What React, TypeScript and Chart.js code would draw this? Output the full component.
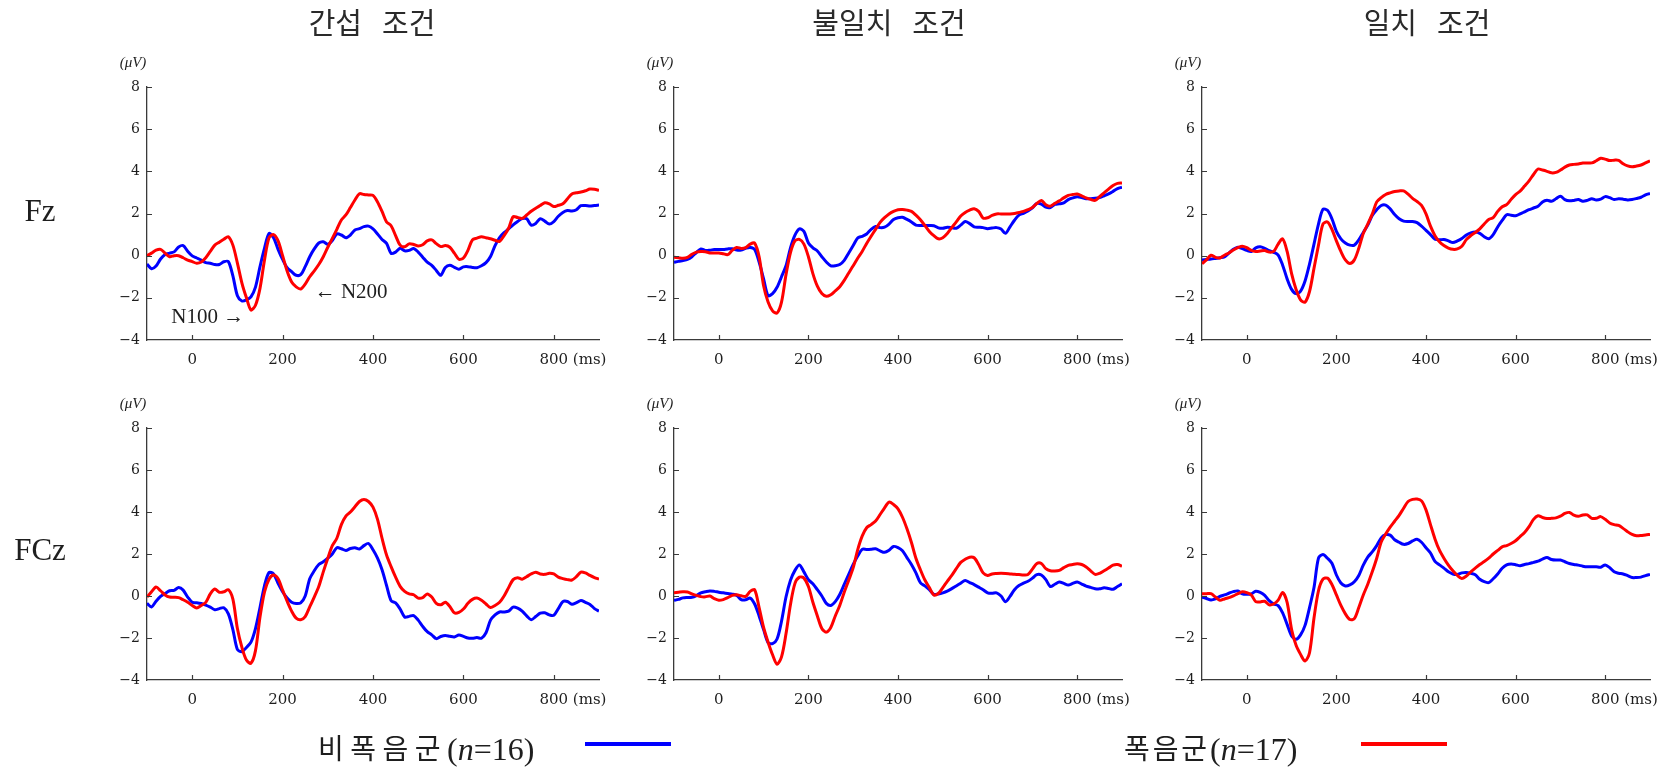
import React, { useEffect, useRef } from "react";
import { Chart, registerables } from "chart.js";

Chart.register(...registerables);

// ---------------- data ----------------
const TIMES = [
  -100, -90, -80, -70, -60, -50, -40, -30, -20, -10,
  0, 10, 20, 30, 40, 50, 60, 70, 80, 90,
  100, 110, 120, 130, 140, 150, 160, 170, 180, 190,
  200, 210, 220, 230, 240, 250, 260, 270, 280, 290,
  300, 310, 320, 330, 340, 350, 360, 370, 380, 390,
  400, 410, 420, 430, 440, 450, 460, 470, 480, 490,
  500, 510, 520, 530, 540, 550, 560, 570, 580, 590,
  600, 610, 620, 630, 640, 650, 660, 670, 680, 690,
  700, 710, 720, 730, 740, 750, 760, 770, 780, 790,
  800, 810, 820, 830, 840, 850, 860, 870, 880, 890,
  900,
];

const X_TICKS = [0, 200, 400, 600, 800];
const Y_TICKS = [8, 6, 4, 2, 0, -2, -4];
const X_MIN = -100;
const X_MAX = 900;
const Y_MIN = -4;
const Y_MAX = 8;
const X_UNIT = "(ms)";
const Y_UNIT = "(μV)";

const COL_TITLES = ["간섭 조건", "불일치 조건", "일치 조건"];
const ROW_LABELS = ["Fz", "FCz"];
const GROUP_NAMES = ["비폭음군", "폭음군"];
const GROUP_N = [16, 17];

// Fz, 간섭 조건
const fzInterfBlue = [
  -0.40, -0.62, -0.49, -0.16, 0.05, 0.12, 0.18, 0.41, 0.48, 0.21,
  -0.01, -0.11, -0.21, -0.33, -0.36, -0.42, -0.42, -0.29, -0.28, -0.96,
  -1.9, -2.15, -2.1, -1.95, -1.49, -0.52, 0.36, 1.05, 0.85, 0.3,
  -0.18, -0.57, -0.76, -0.93, -0.9, -0.52, -0.05, 0.32, 0.6, 0.66,
  0.54, 0.72, 1.03, 0.98, 0.85, 0.98, 1.22, 1.28, 1.38, 1.4,
  1.27, 1.03, 0.77, 0.58, 0.11, 0.17, 0.35, 0.23, 0.25, 0.34,
  0.17, -0.07, -0.31, -0.46, -0.7, -0.93, -0.56, -0.46, -0.55, -0.64,
  -0.53, -0.52, -0.56, -0.57, -0.48, -0.33, -0.04, 0.48, 0.86, 1.09,
  1.27, 1.46, 1.62, 1.76, 1.75, 1.45, 1.53, 1.75, 1.64, 1.5,
  1.62, 1.87, 2.05, 2.14, 2.12, 2.18, 2.37, 2.38, 2.35, 2.38,
  2.4,
];
const fzInterfRed = [
  0.0, 0.12, 0.26, 0.3, 0.12, -0.05, 0.0, 0.0, -0.1, -0.21,
  -0.28, -0.36, -0.3, -0.1, 0.2, 0.5, 0.64, 0.78, 0.9, 0.5,
  -0.35, -1.3, -2.0, -2.58, -2.35, -1.55, -0.2, 0.85, 1.0, 0.7,
  0.0, -0.73, -1.25, -1.48, -1.58, -1.35, -1.0, -0.72, -0.42, -0.05,
  0.4, 0.82, 1.25, 1.69, 1.93, 2.28, 2.64, 2.94, 2.9, 2.88,
  2.86, 2.55, 2.1, 1.6, 1.42, 0.95, 0.5, 0.42, 0.56, 0.53,
  0.46, 0.52, 0.7, 0.75, 0.57, 0.43, 0.48, 0.4, 0.12, -0.17,
  -0.11, 0.25, 0.75, 0.83, 0.9, 0.85, 0.8, 0.73, 0.68, 0.95,
  1.3, 1.85, 1.81, 1.77, 1.93, 2.11, 2.25, 2.38, 2.51, 2.46,
  2.33, 2.39, 2.46, 2.69, 2.93, 2.98, 3.02, 3.08, 3.16, 3.15,
  3.1,
];

// Fz, 불일치 조건
const fzMismatchBlue = [
  -0.32, -0.27, -0.23, -0.18, -0.05, 0.15, 0.32, 0.25, 0.26, 0.29,
  0.29, 0.29, 0.32, 0.33, 0.27, 0.27, 0.35, 0.39, 0.3, -0.3,
  -1.1, -1.9, -1.8, -1.5, -1.0, -0.48, 0.37, 0.97, 1.27, 1.15,
  0.6, 0.37, 0.22, -0.05, -0.3, -0.48, -0.48, -0.42, -0.22, 0.13,
  0.48, 0.84, 0.92, 1.03, 1.25, 1.38, 1.33, 1.35, 1.5, 1.72,
  1.8, 1.82, 1.72, 1.6, 1.45, 1.43, 1.43, 1.43, 1.42, 1.32,
  1.3, 1.35, 1.33, 1.3, 1.45, 1.62, 1.52, 1.37, 1.35, 1.33,
  1.28, 1.31, 1.33, 1.26, 1.06, 1.37, 1.68, 1.92, 2.01, 2.12,
  2.27, 2.48, 2.45, 2.3, 2.28, 2.43, 2.46, 2.5, 2.66, 2.74,
  2.8, 2.76, 2.7, 2.7, 2.72, 2.76, 2.84, 2.93, 3.05, 3.18,
  3.25,
];
const fzMismatchRed = [
  -0.08, -0.1, -0.12, -0.08, 0.07, 0.17, 0.2, 0.19, 0.13, 0.13,
  0.13, 0.09, 0.05, 0.25, 0.39, 0.34, 0.38, 0.55, 0.6, -0.05,
  -1.43, -2.2, -2.62, -2.72, -2.2, -0.9, 0.15, 0.7, 0.77, 0.55,
  -0.05, -0.85, -1.45, -1.8, -1.93, -1.85, -1.67, -1.47, -1.17, -0.82,
  -0.48, -0.12, 0.2, 0.58, 0.92, 1.25, 1.58, 1.8, 1.98, 2.1,
  2.18, 2.19, 2.16, 2.1, 1.92, 1.7, 1.43, 1.15, 0.95, 0.8,
  0.85, 1.05, 1.33, 1.6, 1.88, 2.05, 2.16, 2.23, 2.1, 1.78,
  1.8, 1.91, 1.98, 1.98, 1.98, 1.98, 2.0, 2.05, 2.1, 2.18,
  2.28, 2.48, 2.62, 2.42, 2.35, 2.48, 2.6, 2.74, 2.86, 2.9,
  2.92, 2.84, 2.74, 2.67, 2.62, 2.8, 2.98, 3.16, 3.33, 3.43,
  3.45,
];

// Fz, 일치 조건
const fzMatchBlue = [
  -0.2, -0.18, -0.16, -0.13, -0.1, -0.06, 0.12, 0.3, 0.4, 0.33,
  0.25, 0.2, 0.37, 0.42, 0.35, 0.24, 0.16, 0.03, -0.45, -1.1,
  -1.6, -1.8, -1.68, -1.2, -0.4, 0.55, 1.5, 2.2, 2.15, 1.75,
  1.15, 0.8, 0.6, 0.5, 0.5, 0.75, 1.1, 1.45, 1.9, 2.18,
  2.38, 2.4, 2.22, 1.95, 1.75, 1.64, 1.62, 1.62, 1.57, 1.4,
  1.2, 1.0, 0.78, 0.75, 0.77, 0.7, 0.62, 0.7, 0.82, 0.98,
  1.08, 1.12, 1.06, 0.9, 0.8, 1.0, 1.36, 1.67, 1.94, 1.92,
  1.89, 1.98, 2.08, 2.18, 2.26, 2.34, 2.55, 2.63, 2.58, 2.7,
  2.82, 2.66, 2.6, 2.62, 2.66, 2.58, 2.62, 2.7, 2.64, 2.68,
  2.8, 2.75, 2.66, 2.7, 2.68, 2.64, 2.66, 2.71, 2.77, 2.88,
  2.95,
];
const fzMatchRed = [
  -0.38, -0.2, 0.02, -0.08, -0.11, 0.02, 0.13, 0.27, 0.38, 0.45,
  0.38, 0.25, 0.2, 0.22, 0.24, 0.17, 0.2, 0.55, 0.8, 0.2,
  -0.85, -1.6, -2.1, -2.2, -1.7, -0.6, 0.5, 1.5, 1.6, 1.25,
  0.7, 0.2, -0.2, -0.37, -0.2, 0.35, 1.05, 1.5, 1.97, 2.55,
  2.75, 2.9, 2.98, 3.04, 3.07, 3.07, 2.92, 2.72, 2.57, 2.38,
  1.98, 1.4, 0.95, 0.66, 0.48, 0.36, 0.3, 0.32, 0.45, 0.76,
  0.95, 1.1, 1.27, 1.5, 1.72, 1.8, 2.1, 2.32, 2.42, 2.67,
  2.9, 3.06, 3.3, 3.55, 3.85, 4.11, 4.06, 4.0, 3.93, 3.95,
  4.06, 4.2, 4.3, 4.33, 4.35, 4.39, 4.4, 4.4, 4.5, 4.62,
  4.58, 4.51, 4.53, 4.52, 4.36, 4.26, 4.22, 4.25, 4.3, 4.4,
  4.5,
];

// FCz, 간섭 조건
const fczInterfBlue = [
  -0.35, -0.52, -0.25, -0.02, 0.12, 0.25, 0.27, 0.4, 0.28, -0.05,
  -0.3, -0.32, -0.36, -0.43, -0.53, -0.65, -0.6, -0.56, -0.85, -1.6,
  -2.55, -2.65, -2.45, -2.2, -1.55, -0.55, 0.5, 1.12, 1.05, 0.6,
  0.2, -0.1, -0.3, -0.36, -0.33, 0.0, 0.82, 1.2, 1.5, 1.63,
  1.8, 2.0, 2.3, 2.25, 2.17, 2.26, 2.3, 2.24, 2.4, 2.5,
  2.2, 1.8, 1.25, 0.5, -0.22, -0.33, -0.62, -1.0, -0.97, -0.93,
  -1.15, -1.45, -1.7, -1.85, -2.03, -1.93, -1.88, -1.92, -1.95, -1.86,
  -1.92, -2.0, -2.01, -1.98, -2.01, -1.75, -1.15, -0.9, -0.76, -0.76,
  -0.72, -0.53, -0.58, -0.72, -0.95, -1.13, -0.98, -0.82, -0.8, -0.9,
  -0.92, -0.6, -0.27, -0.26, -0.39, -0.32, -0.21, -0.3, -0.4, -0.6,
  -0.72,
];
const fczInterfRed = [
  -0.05, 0.2, 0.43, 0.25, 0.05, -0.05, -0.06, -0.08, -0.18, -0.3,
  -0.45, -0.57, -0.45, -0.3, 0.1, 0.33, 0.18, 0.2, 0.3, -0.15,
  -1.55, -2.45, -3.05, -3.2, -2.6, -1.0, 0.2, 0.8, 1.0, 0.82,
  0.28, -0.25, -0.72, -1.05, -1.13, -0.98, -0.52, -0.05, 0.45, 1.15,
  1.8, 2.4, 2.75, 3.4, 3.8, 4.0, 4.25, 4.5, 4.6, 4.5,
  4.23, 3.65, 2.75, 1.95, 1.4, 0.9, 0.46, 0.22, 0.1, 0.06,
  -0.1, -0.08, 0.1, -0.05, -0.35, -0.42, -0.3, -0.5, -0.8, -0.78,
  -0.62, -0.35, -0.16, -0.1, -0.2, -0.38, -0.55, -0.45, -0.3, 0.0,
  0.4, 0.78, 0.87, 0.8, 0.92, 1.05, 1.13, 1.05, 1.03, 1.08,
  1.05, 0.9, 0.83, 0.78, 0.76, 0.92, 1.14, 1.1, 0.98, 0.88,
  0.8,
];

// FCz, 불일치 조건
const fczMismatchBlue = [
  -0.21, -0.16, -0.09, -0.07, -0.06, 0.02, 0.15, 0.2, 0.24, 0.22,
  0.18, 0.15, 0.12, 0.09, 0.03, -0.17, -0.18, -0.1, -0.38, -0.95,
  -1.6, -2.22, -2.27, -2.05, -1.2, -0.05, 0.75, 1.22, 1.48, 1.15,
  0.78, 0.58, 0.3, 0.0, -0.35, -0.45, -0.27, 0.07, 0.55, 1.03,
  1.5, 1.9, 2.22, 2.22, 2.23, 2.25, 2.15, 2.08, 2.18, 2.36,
  2.3, 2.15, 1.83, 1.5, 1.1, 0.63, 0.48, 0.3, 0.08, 0.1,
  0.15, 0.23, 0.35, 0.48, 0.61, 0.74, 0.64, 0.54, 0.42, 0.3,
  0.15, 0.13, 0.15, 0.0, -0.27, -0.02, 0.3, 0.5, 0.61, 0.7,
  0.85, 1.02, 1.0, 0.78, 0.45, 0.56, 0.67, 0.6, 0.52, 0.6,
  0.67, 0.57, 0.47, 0.41, 0.35, 0.34, 0.39, 0.36, 0.32, 0.45,
  0.58,
];
const fczMismatchRed = [
  0.16, 0.18, 0.2, 0.19, 0.1, 0.03, -0.03, -0.04, 0.0, -0.13,
  -0.2, -0.17, -0.08, 0.03, 0.06, 0.01, -0.02, 0.22, 0.3, -0.55,
  -1.5, -2.2, -2.8, -3.25, -2.9, -1.8, -0.4, 0.6, 0.9, 0.85,
  0.45, -0.3, -0.95, -1.55, -1.72, -1.5, -0.95, -0.45, 0.18, 0.75,
  1.35, 2.2, 2.85, 3.25, 3.4, 3.57, 3.88, 4.2, 4.47, 4.36,
  4.15, 3.75, 3.2, 2.55, 1.8, 1.25, 0.76, 0.4, 0.05, 0.12,
  0.4, 0.7, 0.98, 1.3, 1.6, 1.75, 1.85, 1.82, 1.5, 1.1,
  0.98, 1.05, 1.07, 1.08, 1.07, 1.05, 1.03, 1.02, 1.0, 1.02,
  1.28, 1.55, 1.55, 1.3, 1.2, 1.19, 1.22, 1.35, 1.46, 1.5,
  1.53, 1.5, 1.38, 1.2, 1.03, 1.08, 1.2, 1.33, 1.47, 1.5,
  1.42,
];

// FCz, 일치 조건
const fczMatchBlue = [
  -0.06, -0.12, -0.19, -0.14, -0.02, 0.05, 0.13, 0.21, 0.24, 0.1,
  0.08, 0.1, 0.23, 0.17, 0.03, -0.22, -0.38, -0.46, -0.8, -1.35,
  -1.9, -2.06, -1.85, -1.4, -0.55, 0.4, 1.8, 1.98, 1.8, 1.56,
  1.0, 0.62, 0.48, 0.53, 0.68, 0.98, 1.47, 1.85, 2.1, 2.4,
  2.77, 2.92, 2.9, 2.68, 2.56, 2.46, 2.5, 2.62, 2.7, 2.56,
  2.3, 2.05, 1.65, 1.48, 1.33, 1.15, 1.05, 1.03, 1.1, 1.12,
  1.08, 1.01, 0.8, 0.68, 0.64, 0.82, 1.05, 1.32, 1.48, 1.52,
  1.49, 1.44, 1.5, 1.54, 1.6, 1.66, 1.76, 1.83, 1.74, 1.71,
  1.71, 1.63, 1.55, 1.5, 1.47, 1.42, 1.39, 1.39, 1.39, 1.37,
  1.48, 1.35, 1.15, 1.08, 1.05, 0.97, 0.88, 0.88, 0.9, 0.97,
  1.03,
];
const fczMatchRed = [
  0.11, 0.11, 0.11, -0.05, -0.2, -0.14, -0.08, 0.01, 0.11, 0.2,
  0.16, 0.05, -0.27, -0.28, -0.25, -0.42, -0.38, -0.2, 0.17, -0.3,
  -1.6, -2.35, -2.78, -3.1, -2.7, -1.05, 0.25, 0.8, 0.85, 0.55,
  0.05, -0.45, -0.85, -1.12, -1.08, -0.55, 0.05, 0.56, 1.15, 1.8,
  2.57, 2.95, 3.28, 3.56, 3.84, 4.18, 4.5, 4.6, 4.62, 4.53,
  4.1, 3.4, 2.72, 2.18, 1.8, 1.47, 1.2, 0.98, 0.83, 0.95,
  1.15, 1.33, 1.5, 1.64, 1.8, 2.0, 2.17, 2.34, 2.4, 2.5,
  2.63, 2.83, 3.02, 3.3, 3.65, 3.82, 3.74, 3.69, 3.7, 3.72,
  3.8, 3.93, 3.98, 3.85, 3.8, 3.86, 3.86, 3.7, 3.7, 3.78,
  3.65, 3.48, 3.4, 3.36, 3.22, 3.06, 2.93, 2.87, 2.88, 2.91,
  2.93,
];

// peak annotations (data coordinates), only in the Fz / 간섭 panel
const NOTE_TEXTS = ["N100 →", "← N200"];
const NOTE_TIMES = [115, 271];
const NOTE_VALUES = [-3.18, -1.99];

// ---------------- layout & style ----------------
const PAGE_W = 1674;
const PAGE_H = 767;
const COLS = [
  { l: 147, w: 452 },
  { l: 674, w: 448 },
  { l: 1202, w: 448 },
];
const ROWS = [
  { t: 87, h: 253 },
  { t: 428, h: 252 },
];
const TITLE_CX = [372, 889, 1427];
const TITLE_BASE = 34;
const ROW_LABEL_CX = 40;
const ROW_BASE = [221, 560];

const BLUE = "#0000ff";
const RED = "#ff0000";
const AXIS = "#3a3a3a";
const INK = "#1e1e1e";
const TITLE_INK = "#2a2a2a";

const PAD_L = 70;
const PAD_T = 45;
const PAD_R = 60;
const PAD_B = 40;

type Note = { text: string; t: number; v: number; align: CanvasTextAlign };

function makeDecor(notes: Note[]) {
  return {
    id: "erpDecor",
    afterDraw(chart: any) {
      const { ctx, chartArea: a, scales } = chart;
      const xs = scales.x;
      const ys = scales.y;
      ctx.save();
      ctx.strokeStyle = AXIS;
      ctx.lineWidth = 1.2;
      ctx.beginPath();
      for (const v of X_TICKS) {
        const px = Math.round(xs.getPixelForValue(v)) + 0.5;
        ctx.moveTo(px, a.bottom);
        ctx.lineTo(px, a.bottom - 5);
      }
      for (const v of Y_TICKS) {
        if (v === Y_MIN) continue;
        const py = Math.round(ys.getPixelForValue(v)) + 0.5;
        ctx.moveTo(a.left, py);
        ctx.lineTo(a.left + 5, py);
      }
      ctx.stroke();

      ctx.fillStyle = INK;
      ctx.font = '15px "DejaVu Serif"';
      ctx.textAlign = "left";
      ctx.textBaseline = "middle";
      ctx.fillText(X_UNIT, xs.getPixelForValue(X_TICKS[X_TICKS.length - 1]) + 19, a.bottom + 20);

      ctx.font = 'italic 15px "Liberation Serif"';
      ctx.textAlign = "center";
      ctx.fillText(Y_UNIT, a.left - 14, a.top - 24);

      ctx.font = '21px "Liberation Serif"';
      ctx.textBaseline = "alphabetic";
      for (const n of notes) {
        ctx.textAlign = n.align;
        ctx.fillText(n.text, xs.getPixelForValue(n.t), ys.getPixelForValue(n.v));
      }
      ctx.restore();
    },
  };
}

function fmtY(v: number) {
  return v < 0 ? "−" + Math.abs(v) : String(v);
}

function Panel(props: { col: number; row: number; blue: number[]; red: number[]; notes: Note[] }) {
  const ref = useRef<HTMLCanvasElement>(null);
  const c = COLS[props.col];
  const r = ROWS[props.row];
  const cw = c.w + PAD_L + PAD_R;
  const ch = r.h + PAD_T + PAD_B;

  useEffect(() => {
    const canvas = ref.current;
    if (!canvas) return;
    const chart = new Chart(canvas, {
      type: "line",
      data: {
        datasets: [
          {
            label: GROUP_NAMES[1],
            data: TIMES.map((t, i) => ({ x: t, y: props.red[i] })),
            borderColor: RED,
            borderWidth: 3,
            pointRadius: 0,
            tension: 0.3,
            fill: false,
          },
          {
            label: GROUP_NAMES[0],
            data: TIMES.map((t, i) => ({ x: t, y: props.blue[i] })),
            borderColor: BLUE,
            borderWidth: 3,
            pointRadius: 0,
            tension: 0.3,
            fill: false,
          },
        ],
      },
      options: {
        responsive: false,
        maintainAspectRatio: false,
        animation: false,
        events: [],
        layout: { padding: { left: PAD_L - 40, top: PAD_T, right: PAD_R, bottom: 0 } },
        plugins: { legend: { display: false }, tooltip: { enabled: false } },
        scales: {
          x: {
            type: "linear",
            min: X_MIN,
            max: X_MAX,
            grid: { display: false, drawTicks: false },
            border: { display: true, color: AXIS, width: 1.3 },
            ticks: {
              padding: 11,
              color: INK,
              font: { family: "DejaVu Serif", size: 15 },
              maxRotation: 0,
              autoSkip: false,
            },
            afterBuildTicks: (s: any) => {
              s.ticks = X_TICKS.map((v) => ({ value: v }));
            },
            afterFit: (s: any) => {
              s.height = PAD_B;
            },
          },
          y: {
            type: "linear",
            min: Y_MIN,
            max: Y_MAX,
            grid: { display: false, drawTicks: false },
            border: { display: true, color: AXIS, width: 1.3 },
            ticks: {
              padding: 7,
              color: INK,
              font: { family: "DejaVu Serif", size: 14 },
              callback: (v: any) => fmtY(Number(v)),
            },
            afterBuildTicks: (s: any) => {
              s.ticks = Y_TICKS.map((v) => ({ value: v }));
            },
            afterFit: (s: any) => {
              s.width = 40;
            },
          },
        },
      } as any,
      plugins: [makeDecor(props.notes)],
    });
    return () => chart.destroy();
  }, []);

  return (
    <canvas
      ref={ref}
      width={cw}
      height={ch}
      style={{ position: "absolute", left: c.l - PAD_L, top: r.t - PAD_T, width: cw, height: ch }}
    />
  );
}

const LEGEND = [
  { name: GROUP_NAMES[0], n: GROUP_N[0], color: BLUE, x: 318, latinX: 447, lineX0: 585, lineX1: 671 },
  { name: GROUP_NAMES[1], n: GROUP_N[1], color: RED, x: 1124, latinX: 1210, lineX0: 1361, lineX1: 1447 },
];

function Overlay() {
  const ref = useRef<HTMLCanvasElement>(null);
  useEffect(() => {
    const canvas = ref.current;
    if (!canvas) return;
    const ctx = canvas.getContext("2d");
    if (!ctx) return;
    ctx.clearRect(0, 0, PAGE_W, PAGE_H);
    ctx.textBaseline = "alphabetic";

    // column titles
    ctx.fillStyle = TITLE_INK;
    ctx.font = '29px "Noto Sans CJK KR"';
    ctx.textAlign = "left";
    const gap = 20;
    COL_TITLES.forEach((title, i) => {
      const words = title.split(" ");
      const widths = words.map((w) => ctx.measureText(w).width);
      const total = widths.reduce((s, w) => s + w, 0) + gap * (words.length - 1);
      let x = TITLE_CX[i] - total / 2;
      words.forEach((w, j) => {
        ctx.fillText(w, x, TITLE_BASE);
        x += widths[j] + gap;
      });
    });

    // row labels
    ctx.fillStyle = INK;
    ctx.font = '31px "Liberation Serif"';
    ctx.textAlign = "center";
    ROW_LABELS.forEach((lab, i) => ctx.fillText(lab, ROW_LABEL_CX, ROW_BASE[i]));

    // legend
    LEGEND.forEach((it) => {
      ctx.fillStyle = INK;
      ctx.textAlign = "left";
      ctx.font = '28px "Noto Sans CJK KR"';
      const chars = Array.from(it.name);
      const natural = ctx.measureText(it.name).width;
      const extra = (it.latinX - it.x - natural) / chars.length;
      let x = it.x;
      chars.forEach((chh) => {
        ctx.fillText(chh, x, 759);
        x += ctx.measureText(chh).width + extra;
      });
      x = it.latinX;
      ctx.font = '32px "Liberation Serif"';
      ctx.fillText("(", x, 760);
      x += ctx.measureText("(").width;
      ctx.font = 'italic 32px "Liberation Serif"';
      ctx.fillText("n", x, 760);
      x += ctx.measureText("n").width;
      ctx.font = '32px "Liberation Serif"';
      ctx.fillText("=" + it.n + ")", x, 760);

      ctx.strokeStyle = it.color;
      ctx.lineWidth = 4;
      ctx.beginPath();
      ctx.moveTo(it.lineX0, 744);
      ctx.lineTo(it.lineX1, 744);
      ctx.stroke();
    });
  }, []);
  return (
    <canvas
      ref={ref}
      width={PAGE_W}
      height={PAGE_H}
      style={{ position: "absolute", left: 0, top: 0, width: PAGE_W, height: PAGE_H, pointerEvents: "none" }}
    />
  );
}

const PANEL_DATA = [
  [fzInterfBlue, fzInterfRed, fzMismatchBlue, fzMismatchRed, fzMatchBlue, fzMatchRed],
  [fczInterfBlue, fczInterfRed, fczMismatchBlue, fczMismatchRed, fczMatchBlue, fczMatchRed],
];

const FZ_NOTES: Note[] = [
  { text: NOTE_TEXTS[0], t: NOTE_TIMES[0], v: NOTE_VALUES[0], align: "right" },
  { text: NOTE_TEXTS[1], t: NOTE_TIMES[1], v: NOTE_VALUES[1], align: "left" },
];

export default function App() {
  return (
    <div
      style={{
        position: "fixed",
        left: 0,
        top: 0,
        width: PAGE_W,
        height: PAGE_H,
        background: "#ffffff",
        overflow: "hidden",
      }}
    >
      {[0, 1].map((row) =>
        [0, 1, 2].map((col) => (
          <Panel
            key={row + "-" + col}
            row={row}
            col={col}
            blue={PANEL_DATA[row][col * 2]}
            red={PANEL_DATA[row][col * 2 + 1]}
            notes={row === 0 && col === 0 ? FZ_NOTES : []}
          />
        ))
      )}
      <Overlay />
    </div>
  );
}
